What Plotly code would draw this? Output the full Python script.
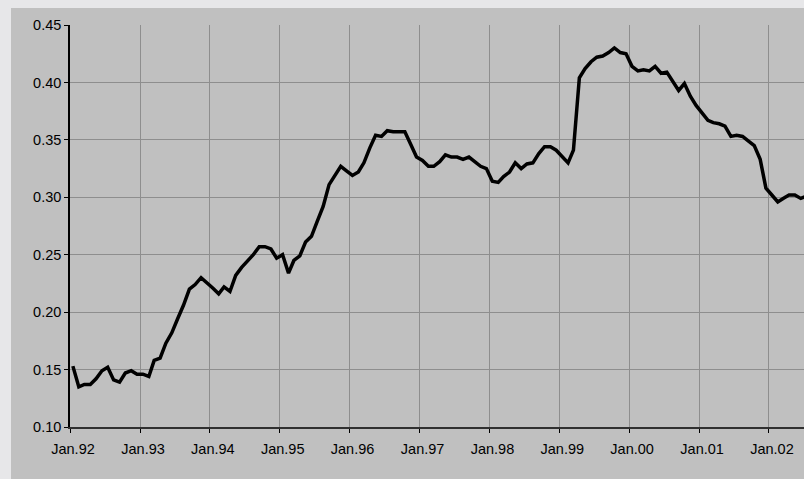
import pandas as pd
import plotly.graph_objects as go

# Monthly series, Jan 1992 onward
start_month = "1992-01-01"
values_1992 = [0.153, 0.135, 0.137, 0.137, 0.142, 0.149, 0.152, 0.141, 0.139, 0.147, 0.149, 0.146]
values_1993 = [0.146, 0.144, 0.158, 0.160, 0.173, 0.182, 0.194, 0.206, 0.220, 0.224, 0.230, 0.226]
values_1994 = [0.221, 0.216, 0.222, 0.218, 0.232, 0.239, 0.244, 0.250, 0.257, 0.257, 0.255, 0.247]
values_1995 = [0.250, 0.234, 0.245, 0.249, 0.261, 0.266, 0.279, 0.292, 0.311, 0.319, 0.327, 0.323]
values_1996 = [0.319, 0.322, 0.330, 0.343, 0.354, 0.353, 0.358, 0.357, 0.357, 0.357, 0.346, 0.335]
values_1997 = [0.332, 0.327, 0.327, 0.331, 0.337, 0.335, 0.335, 0.333, 0.335, 0.331, 0.327, 0.325]
values_1998 = [0.314, 0.313, 0.318, 0.322, 0.330, 0.325, 0.329, 0.330, 0.338, 0.344, 0.344, 0.341]
values_1999 = [0.336, 0.330, 0.341, 0.404, 0.412, 0.418, 0.422, 0.423, 0.426, 0.430, 0.426, 0.425]
values_2000 = [0.414, 0.410, 0.411, 0.410, 0.414, 0.408, 0.409, 0.401, 0.393, 0.399, 0.388, 0.380]
values_2001 = [0.373, 0.367, 0.365, 0.364, 0.362, 0.353, 0.354, 0.353, 0.349, 0.345, 0.333, 0.308]
values_2002 = [0.302, 0.296, 0.299, 0.302, 0.302, 0.299, 0.301]

values = (values_1992 + values_1993 + values_1994 + values_1995 + values_1996 + values_1997
          + values_1998 + values_1999 + values_2000 + values_2001 + values_2002)

# each monthly observation is plotted at the middle of its month
months = pd.date_range(start_month, periods=len(values), freq="MS") + pd.Timedelta(days=15)

y_min, y_max, y_step = 0.10, 0.45, 0.05

font = dict(family="Liberation Sans, Arial, sans-serif", size=14.5, color="#000000")

fig = go.Figure()
fig.add_trace(go.Scatter(
    x=months, y=values, mode="lines",
    line=dict(color="#000000", width=3.5),
    showlegend=False, hoverinfo="skip",
))

W, H = 804, 479
ml, mr, mt, mb = 70, 0, 25, 52
pw, ph = W - ml - mr, H - mt - mb

# silver chart panel sitting on the light page background
fig.add_shape(
    type="rect", xref="paper", yref="paper", layer="below",
    x0=(11 - ml) / pw, x1=1.05, y0=-0.3, y1=(H - mb - 8) / ph,
    fillcolor="#c0c0c0", line=dict(width=0),
)

fig.update_layout(
    width=W, height=H,
    margin=dict(l=ml, r=mr, t=mt, b=mb, pad=0),
    paper_bgcolor="#e7e7e9",
    plot_bgcolor="#c0c0c0",
    font=font,
    xaxis=dict(
        type="date",
        range=["1992-01-01", "2002-07-03"],
        tick0="1992-01-01", dtick="M12", tickformat="%b.%y",
        ticks="outside", ticklen=4, tickcolor="#000000", tickwidth=1,
        ticklabelshift=3, ticklabelstandoff=4,
        showgrid=True, gridcolor="#8e8e8e", gridwidth=1,
        showline=True, linecolor="#303030", linewidth=2,
        zeroline=False, tickfont=font,
    ),
    yaxis=dict(
        range=[y_min, y_max], tick0=y_min, dtick=y_step, tickformat=".2f",
        ticks="outside", ticklen=4, tickcolor="#000000", tickwidth=1,
        showgrid=True, gridcolor="#8e8e8e", gridwidth=1,
        showline=True, linecolor="#000000", linewidth=1.5,
        zeroline=False, tickfont=font,
    ),
)

fig.write_html("out.html")
